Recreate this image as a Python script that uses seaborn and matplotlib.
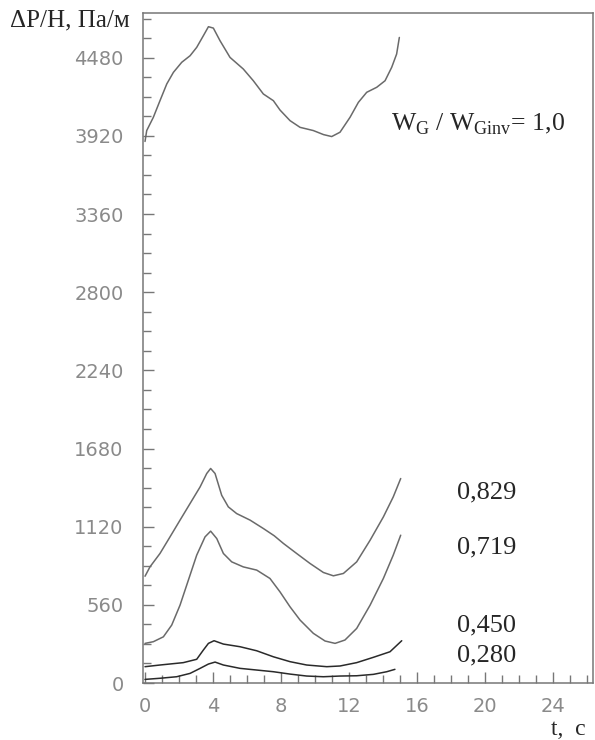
import numpy as np
import pandas as pd
import seaborn as sns
import matplotlib.pyplot as plt
from matplotlib.ticker import MultipleLocator

# curve W_G/W_Ginv = 1.0
t_100 = [0.0, 0.1, 0.49, 0.88, 1.28, 1.67, 2.16, 2.65, 3.04, 3.43, 3.73, 4.02,
         4.41, 5.0, 5.78, 6.37, 6.96, 7.55, 7.94, 8.53, 9.12, 9.9, 10.5, 10.98,
         11.47, 12.06, 12.55, 13.04, 13.63, 14.12, 14.51, 14.8, 14.96]
p_100 = [3880, 3958, 4053, 4172, 4292, 4375, 4447, 4494, 4554, 4637, 4702, 4692,
         4602, 4482, 4399, 4315, 4220, 4172, 4105, 4029, 3981, 3958, 3929, 3915,
         3946, 4053, 4160, 4232, 4268, 4315, 4411, 4506, 4625]

# 0,829
t_829 = [0.0, 0.29, 0.88, 1.47, 2.06, 2.65, 3.24, 3.63, 3.86, 4.12, 4.51, 4.9,
         5.39, 6.18, 6.96, 7.6, 8.14, 8.92, 9.7, 10.49, 11.08, 11.67, 12.45,
         13.24, 14.02, 14.6, 15.04]
p_829 = [765, 832, 928, 1047, 1167, 1286, 1405, 1501, 1537, 1501, 1345, 1262,
         1214, 1167, 1107, 1055, 1000, 928, 857, 792, 768, 785, 868,
         1023, 1190, 1333, 1465]

# 0,719
t_719 = [0.0, 0.49, 1.08, 1.57, 2.06, 2.55, 3.04, 3.53, 3.86, 4.22, 4.61, 5.1,
         5.78, 6.57, 7.35, 7.94, 8.53, 9.12, 9.9, 10.59, 11.18, 11.76, 12.45,
         13.24, 14.02, 14.6, 15.04]
p_719 = [284, 296, 331, 415, 558, 737, 916, 1047, 1088, 1035, 928, 868,
         832, 809, 749, 653, 546, 451, 356, 301, 284, 308, 391,
         558, 749, 916, 1059]

# 0,450
t_450 = [0.0, 0.88, 2.25, 3.04, 3.43, 3.73, 4.06, 4.61, 5.59, 6.57, 7.55, 8.53,
         9.51, 10.69, 11.47, 12.45, 13.43, 14.41, 15.1]
p_450 = [117, 129, 146, 170, 236, 284, 303, 279, 260, 231, 188, 153,
         129, 117, 122, 146, 184, 224, 303]

# 0,280
t_280 = [0.0, 0.88, 1.86, 2.65, 3.24, 3.73, 4.12, 4.61, 5.59, 6.57, 7.55, 8.53,
         9.51, 10.49, 11.47, 12.45, 13.43, 14.22, 14.7]
p_280 = [26, 34, 45, 69, 105, 136, 150, 129, 105, 93, 81, 64,
         50, 45, 50, 52, 62, 81, 98]

curve_labels = ["0,829", "0,719", "0,450", "0,280"]
label_y = [1364, 969, 416, 194]

frames = []
for name, t, p in [("1,0", t_100, p_100), ("0,829", t_829, p_829),
                   ("0,719", t_719, p_719), ("0,450", t_450, p_450),
                   ("0,280", t_280, p_280)]:
    frames.append(pd.DataFrame({"t": t, "dp": p, "ratio": name}))
df = pd.concat(frames, ignore_index=True)

sns.set_style("ticks")
plt.rcParams['font.family'] = ['DejaVu Sans']

fig = plt.figure(figsize=(5.95, 7.4), dpi=100)
ax = fig.add_axes([0.2403, 0.077, 0.7563, 0.9054])

palette = {"1,0": "#6a6a6a", "0,829": "#6a6a6a", "0,719": "#6a6a6a",
           "0,450": "#2a2a2a", "0,280": "#2a2a2a"}
sns.lineplot(data=df, x="t", y="dp", hue="ratio", palette=palette,
             estimator=None, sort=False, linewidth=1.1, legend=False, ax=ax,
             solid_joinstyle="round")

ax.set_xlim(-0.12, 26.35)
ax.set_ylim(0, 4800)
ax.xaxis.set_major_locator(MultipleLocator(4))
ax.xaxis.set_minor_locator(MultipleLocator(1))
ax.yaxis.set_major_locator(MultipleLocator(560))
ax.yaxis.set_minor_locator(MultipleLocator(140))
ax.tick_params(which="both", direction="in", color="#777777", width=1.0,
               labelcolor="#8a8a8a", labelsize=14)
ax.tick_params(which="major", length=8)
ax.tick_params(which="minor", length=6)
ax.tick_params(axis="y", which="major", pad=14)
ax.tick_params(axis="x", which="major", pad=10)
ax.set_xlabel("")
ax.set_ylabel("")
for s in ax.spines.values():
    s.set_color("#777777")
    s.set_linewidth(1.1)

serif = ["Liberation Serif", "DejaVu Serif"]
ax.text(19.6, 4000, r"W$_\mathregular{G}$ / W$_\mathregular{Ginv}$= 1,0",
        family=serif, fontsize=18.5, ha="center", va="center")
for lab, y in zip(curve_labels, label_y):
    ax.text(20.1, y, lab, family=serif, fontsize=19, ha="center", va="center")

fig.text(0.118, 0.972, "ΔP/H, Па/м", family=serif, fontsize=18,
         ha="center", va="center")
fig.text(0.955, 0.014, "t,  c", family=serif, fontsize=17,
         ha="center", va="center")

fig.savefig("out.png", dpi=100, facecolor="white")
